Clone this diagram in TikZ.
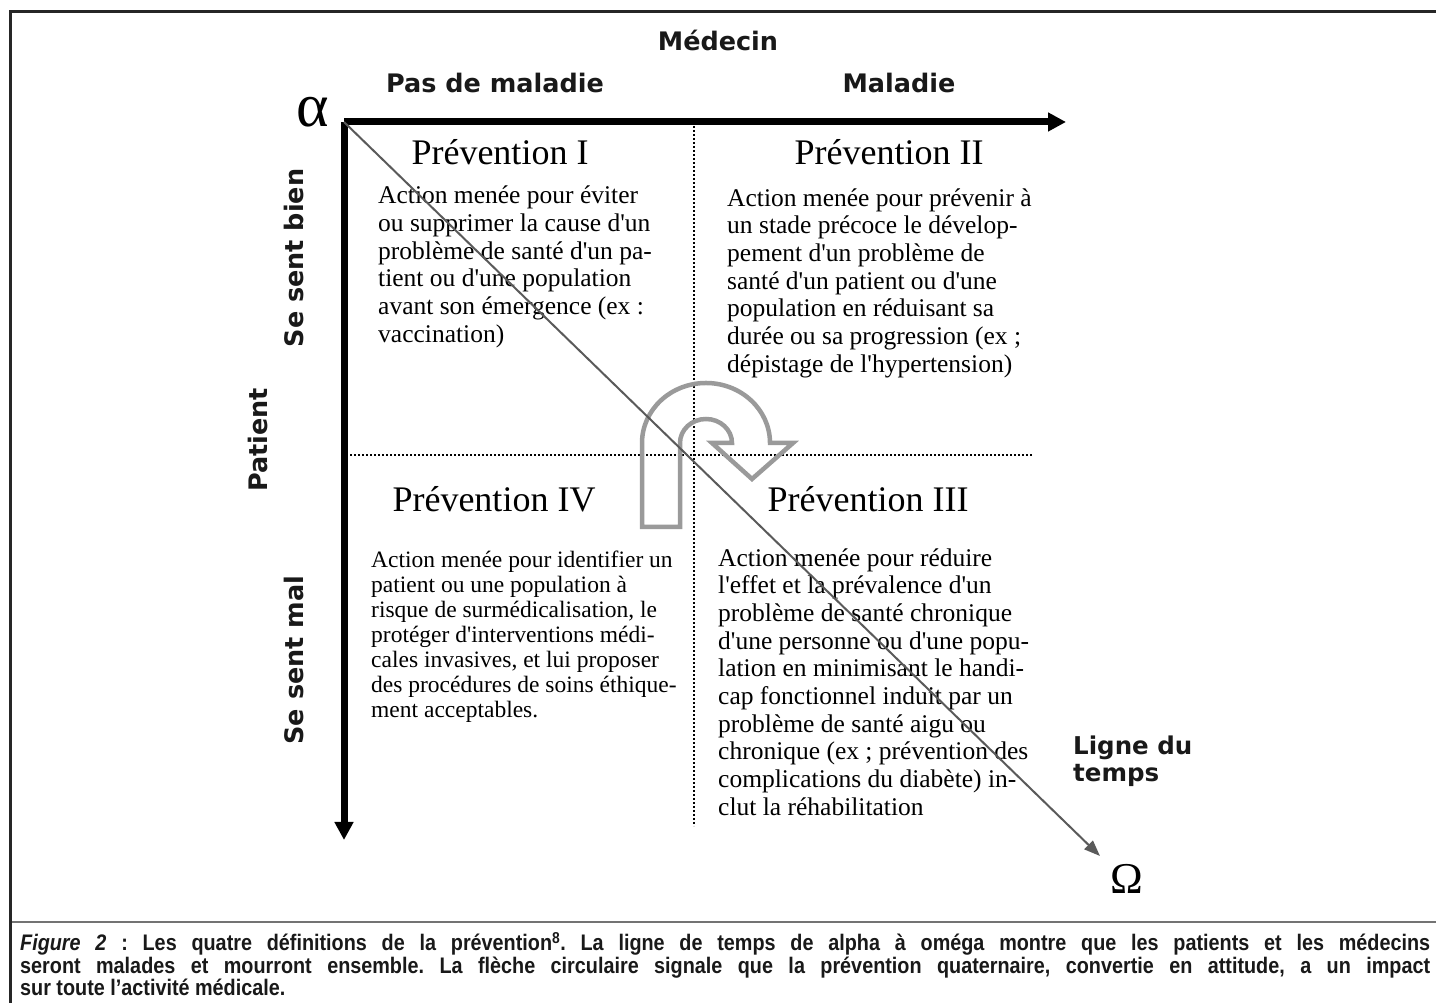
\documentclass[tikz,border=0pt]{standalone}
\usepackage{fontspec}
\setmainfont{Liberation Serif}[Ligatures=TeXOff]
\newfontfamily\lblfont{DejaVu Sans}
\newfontfamily\capfont{Liberation Sans}[FakeStretch=0.88]
\usetikzlibrary{arrows.meta}
\definecolor{arrgray}{HTML}{9A9A9A}
\definecolor{diaggray}{HTML}{5A5A5A}
\frenchspacing
\begin{document}
\begin{tikzpicture}[x=1pt,y=1pt,
  lbl/.style={font=\lblfont\bfseries\fontsize{25.5}{29}\selectfont, inner sep=0, text=black!90},
  ttl/.style={font=\fontsize{36}{40}\selectfont, inner sep=0},
  body/.style={font=\fontsize{25.5}{27.7}\selectfont, align=left, anchor=west, inner sep=0},
  bodysm/.style={font=\fontsize{23.5}{25}\selectfont, align=left, anchor=west, inner sep=0},
  axis/.style={line width=7pt, -{Triangle[length=18pt,width=18pt]}},
  grid/.style={line width=1.6pt, dash pattern=on 1.6pt off 2.4pt},
  diag/.style={draw=diaggray, line width=2pt, -{Triangle[length=16pt,width=12pt]}},
  uturn/.style={draw=arrgray, line width=4.5pt, line join=miter},
  frame/.style={line width=3pt, black!85}]
\useasboundingbox (0,0) rectangle (1436,1003);
% frame
\coordinate (fbl) at (10,0);
\coordinate (ftl) at (10,991);
\coordinate (ftr) at (1436,991);
\draw[frame] (fbl) -- (ftl) -- (ftr);
% labels top
\node[lbl] (med) at (718,963) {Médecin};
\node[lbl] (pasmal) at (495,920) {Pas de maladie};
\node[lbl] (mal) at (899,920) {Maladie};
\node[font=\fontsize{62}{66}\selectfont, inner sep=0] (alpha) at (313,891) {α};
% side labels
\node[lbl, rotate=90] (bien) at (294,745) {Se sent bien};
\node[lbl, rotate=90] (patient) at (258,563) {Patient};
\node[lbl, rotate=90] (malsent) at (294,343) {Se sent mal};
% grid
\coordinate (vt) at (694,881);
\coordinate (vb) at (694,177);
\coordinate (hl) at (350,548);
\coordinate (hr) at (1033,548);
\draw[grid] (vt) -- (vb);
\draw[grid] (hl) -- (hr);
% axes
\coordinate (O) at (344,881);
\coordinate (xend) at (1066,881);
\coordinate (yend) at (344,163);
\draw[axis] (O) -- (xend);
\draw[axis] (O) -- (yend);
% titles
\node[ttl] (t1) at (500,851) {Prévention I};
\node[ttl] (t2) at (889,851) {Prévention II};
\node[ttl] (t4) at (494,504) {Prévention IV};
\node[ttl] (t3) at (868,504) {Prévention III};
% bodies
\node[body] (b1) at (378,736) {Action menée pour éviter\\ou supprimer la cause d'un\\problème de santé d'un pa-\\tient ou d'une population\\avant son émergence (ex :\\vaccination)};
\node[body] (b2) at (727,720) {Action menée pour prévenir à\\un stade précoce le dévelop-\\pement d'un problème de\\santé d'un patient ou d'une\\population en réduisant sa\\durée ou sa progression (ex ;\\dépistage de l'hypertension)};
\node[bodysm] (b4) at (371,366) {Action menée pour identifier un\\patient ou une population à\\risque de surmédicalisation, le\\protéger d'interventions médi-\\cales invasives, et lui proposer\\des procédures de soins éthique-\\ment acceptables.};
\node[body] (b3) at (718,321) {Action menée pour réduire\\l'effet et la prévalence d'un\\problème de santé chronique\\d'une personne ou d'une popu-\\lation en minimisant le handi-\\cap fonctionnel induit par un\\problème de santé aigu ou\\chronique (ex ; prévention des\\complications du diabète) in-\\clut la réhabilitation};
% u-turn arrow
\draw[uturn] (642,476) -- (642,560) arc[start angle=180,end angle=0,x radius=64,y radius=60]
  -- (793,560) -- (752,524) -- (712,560) -- (732,560)
  arc[start angle=0,end angle=180,x radius=26,y radius=24] -- (680,476) -- cycle;
% time line
\coordinate (dend) at (1100,147);
\draw[diag] (O) -- (dend);
\node[font=\fontsize{44}{48}\selectfont, inner sep=0] (omega) at (1127,124) {Ω};
\node[lbl, align=left, anchor=west, font=\lblfont\bfseries\fontsize{24.5}{27}\selectfont] (ligne) at (1073,242) {Ligne du\\temps};
% caption
\coordinate (sepl) at (12,81);
\coordinate (sepr) at (1436,81);
\draw[line width=2pt, black!55] (sepl) -- (sepr);
\node[anchor=north west, inner sep=0, align=left, font=\capfont\bfseries\fontsize{22.5}{22.6}\selectfont, text=black!90] (cap) at (20,71)
{\makebox[1410pt][s]{\textit{Figure 2} : Les quatre définitions de la prévention\textsuperscript{8}. La ligne de temps de alpha à oméga montre que les patients et les médecins}\\
\makebox[1410pt][s]{seront malades et mourront ensemble. La flèche circulaire signale que la prévention quaternaire, convertie en attitude, a un impact}\\
sur toute l’activité médicale.};
\end{tikzpicture}
\end{document}
